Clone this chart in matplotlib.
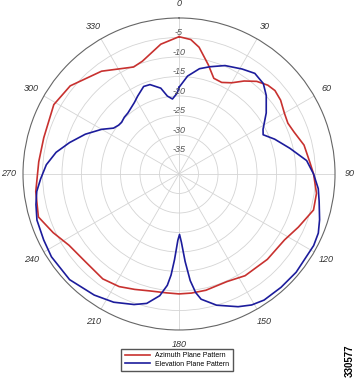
import numpy as np
import matplotlib
matplotlib.use("Agg")
import matplotlib.pyplot as plt

# azimuth plane pattern (deg, dB)
az_deg = [0, 5, 9, 15, 20, 25, 30, 35, 40, 45, 49, 54, 60, 65, 70, 77, 85, 90,
          98, 105, 114, 122, 134, 147, 156, 167, 174, 180, 186, 194, 201, 208,
          216, 227, 237, 245, 253, 263, 275, 285, 299, 309, 323, 337, 342, 352, 360]
az_db = [-4.8, -5.4, -7.1, -11.0, -13.9, -14.1, -13.0, -10.9, -9.0, -7.8, -7.4,
         -7.8, -8.8, -9.2, -8.6, -7.1, -6.3, -5.5, -4.4, -4.3, -6.5, -8.1, -8.5,
         -8.9, -9.8, -9.4, -9.3, -9.25, -9.35, -9.1, -8.3, -7.3, -6.75, -7.1,
         -6.4, -4.4, -2.3, -3.0, -3.9, -4.1, -3.3, -4.1, -7.0, -10.2, -9.6, -6.4, -4.8]

# elevation plane pattern (deg, dB)
el_deg = [0, 5, 11, 16, 23, 31, 37, 43, 48, 55, 62, 65, 70, 77, 84, 90, 96, 101,
          108, 113, 118, 130, 138, 146, 151, 156, 164, 170, 172, 174, 176, 178,
          179.5, 181, 183, 184.5, 186, 189, 194, 199, 207, 215, 226, 237, 244,
          252, 258, 263, 268, 274, 280, 286, 293, 300, 305, 309, 312, 316, 320,
          328, 332, 338, 342, 348, 351.5, 355, 358.6, 360]
el_db = [-17.8, -14.8, -12.5, -11.4, -9.8, -8.6, -7.7, -8.3, -9.9, -12.7, -15.6,
         -16.2, -13.9, -10.8, -7.1, -5.5, -4.1, -3.4, -2.1, -1.2, -0.9, -0.8,
         -0.9, -1.0, -1.6, -2.75, -5.0, -7.4, -9.3, -12.5, -17.5, -22.5, -24.5,
         -23.0, -18.0, -14.0, -11.3, -8.4, -5.8, -4.6, -3.1, -2.1, -1.0, -1.0,
         -1.4, -1.7, -2.5, -3.25, -4.5, -5.9, -8.0, -10.8, -13.9, -17.1, -19.5,
         -20.1, -20.2, -19.8, -19.6, -18.4, -17.4, -15.8, -15.9, -17.5, -19.8,
         -20.7, -19.3, -17.8]

r_ticks = [-35, -30, -25, -20, -15, -10, -5]
theta_ticks = list(range(0, 360, 30))

fig = plt.figure(figsize=(3.6, 3.8), dpi=100)
ax = fig.add_axes([0.0639, 0.1316, 0.8667, 0.8211], projection='polar')
ax.set_theta_zero_location('N')
ax.set_theta_direction(-1)
ax.set_ylim(-40, 0)

ax.plot(np.radians(az_deg), az_db, color='#c8312f', lw=1.2, label='Azimuth Plane Pattern')
ax.plot(np.radians(el_deg), el_db, color='#1c1c9c', lw=1.2, label='Elevation Plane Pattern')

ax.set_rgrids(r_ticks, labels=[''] * len(r_ticks))
ax.set_thetagrids(theta_ticks, labels=[str(t) for t in theta_ticks],
                  fontsize=6.5, fontstyle='italic', color='#333333',
                  family='Liberation Sans')
ax.tick_params(axis='x', pad=0)
ax.grid(color='#d4d4d4', lw=0.6)
ax.spines['polar'].set_color('#666666')
ax.spines['polar'].set_linewidth(0.8)

for r in r_ticks:
    ax.text(0, r, str(r), ha='center', va='bottom', fontsize=6.5,
            fontstyle='italic', color='#555555', family='Liberation Sans')

fig.legend(loc='center', bbox_to_anchor=(0.492, 0.053),
           prop={'family': 'Liberation Sans', 'size': 5},
           handlelength=3.6, fancybox=False, edgecolor='#555555',
           borderpad=0.5, labelspacing=0.2, handletextpad=0.8, framealpha=1)

fig.text(0.972, 0.05, '330577', rotation=90, fontsize=7, fontweight='bold',
         family='Liberation Sans', ha='center', va='center')

fig.savefig('out.png', dpi=100)
